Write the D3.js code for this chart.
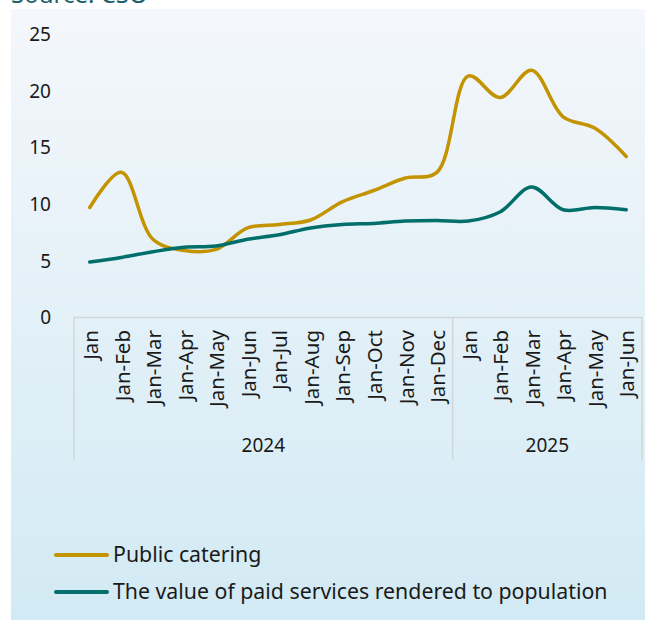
<!DOCTYPE html>
<html>
<head>
<meta charset="utf-8">
<script src="https://cdn.jsdelivr.net/npm/d3@7"></script>
<style>
  body { margin: 0; background: #fff; }
  svg { display: block; font-family: "Noto Sans", sans-serif; }
</style>
</head>
<body>
<div id="chart"></div>
<script>
// 月ラベル（累計）
const months = ["Jan", "Jan-Feb", "Jan-Mar", "Jan-Apr", "Jan-May", "Jan-Jun", "Jan-Jul",
  "Jan-Aug", "Jan-Sep", "Jan-Oct", "Jan-Nov", "Jan-Dec",
  "Jan", "Jan-Feb", "Jan-Mar", "Jan-Apr", "Jan-May", "Jan-Jun"];
const years = [{ label: "2024", from: 0, to: 11 }, { label: "2025", from: 12, to: 17 }];

// 系列の値
const cateringValues = [9.7, 12.8, 6.9, 5.9, 6.0, 7.9, 8.2, 8.6, 10.2, 11.2, 12.3, 12.8,
  21.3, 19.4, 21.8, 17.7, 16.7, 14.2];
const servicesValues = [4.9, 5.3, 5.8, 6.2, 6.3, 6.9, 7.3, 7.9, 8.2, 8.3, 8.5, 8.55,
  8.5, 9.3, 11.5, 9.5, 9.7, 9.5];
const yTicks = [0, 5, 10, 15, 20, 25];

const series = [
  { name: "Public catering", values: cateringValues, color: "#c49300" },
  { name: "The value of paid services rendered to population", values: servicesValues, color: "#006e6a" }
];

const width = 645, height = 620;
const svg = d3.select('#chart').append('svg')
  .attr('width', width)
  .attr('height', height);

// 背景のグラデーション
const grad = svg.append('defs').append('linearGradient')
  .attr('id', 'bg').attr('x1', 0).attr('y1', 0).attr('x2', 0).attr('y2', 1);
grad.append('stop').attr('offset', '0%').attr('stop-color', '#f4f7fb');
grad.append('stop').attr('offset', '100%').attr('stop-color', '#d2eaf4');

svg.append('rect')
  .attr('x', 11).attr('y', 9)
  .attr('width', width - 11).attr('height', height - 9)
  .attr('fill', 'url(#bg)');

// 上で切れている出典
svg.append('text')
  .attr('x', 11).attr('y', 3)
  .style('font-size', '24px')
  .style('fill', '#1b5f6e')
  .text('Source: CSO');

// スケール
const x = d3.scaleBand()
  .domain(d3.range(months.length))
  .range([74, 642]);
const cx = i => x(i) + x.bandwidth() / 2;

const y = d3.scaleLinear()
  .domain([0, 25])
  .range([317.5, 34]);

// Y軸ラベル
svg.append('g')
  .selectAll('text')
  .data(yTicks)
  .enter()
  .append('text')
  .attr('x', 51)
  .attr('y', d => y(d))
  .attr('dy', '0.36em')
  .attr('text-anchor', 'end')
  .style('font-size', '19px')
  .style('fill', '#1a1a1a')
  .text(d => d);

// X軸の枠線
const axisG = svg.append('g')
  .attr('stroke', '#d3d6d8')
  .attr('stroke-width', 1.5);
axisG.append('line')
  .attr('x1', 74).attr('x2', 642)
  .attr('y1', y(0)).attr('y2', y(0));
const separators = [0, 12, months.length];
axisG.selectAll('line.sep')
  .data(separators)
  .enter()
  .append('line')
  .attr('class', 'sep')
  .attr('x1', d => d === months.length ? 642 : x(d))
  .attr('x2', d => d === months.length ? 642 : x(d))
  .attr('y1', y(0)).attr('y2', 460);

// 月ラベル（回転）
svg.append('g')
  .selectAll('text')
  .data(months)
  .enter()
  .append('text')
  .attr('transform', (d, i) => `translate(${cx(i) + 1},330) rotate(-90)`)
  .attr('dy', '0.35em')
  .attr('text-anchor', 'end')
  .style('font-size', '20.5px')
  .style('fill', '#1a1a1a')
  .text(d => d);

// 年ラベル
svg.append('g')
  .selectAll('text')
  .data(years)
  .enter()
  .append('text')
  .attr('x', d => (x(d.from) + x(d.to) + x.bandwidth()) / 2)
  .attr('y', 452)
  .attr('text-anchor', 'middle')
  .style('font-size', '19px')
  .style('fill', '#1a1a1a')
  .text(d => d.label);

// 折れ線
const line = d3.line()
  .x((d, i) => cx(i))
  .y(d => y(d))
  .curve(d3.curveCatmullRom.alpha(0.5));

svg.append('g')
  .selectAll('path')
  .data(series)
  .enter()
  .append('path')
  .attr('d', d => line(d.values))
  .attr('fill', 'none')
  .attr('stroke', d => d.color)
  .attr('stroke-width', 3.5)
  .attr('stroke-linecap', 'round')
  .attr('stroke-linejoin', 'round');

// 凡例
const legend = svg.append('g')
  .selectAll('g')
  .data(series)
  .enter()
  .append('g')
  .attr('transform', (d, i) => `translate(0,${555 + i * 37})`);
legend.append('line')
  .attr('x1', 56).attr('x2', 107)
  .attr('y1', 0).attr('y2', 0)
  .attr('stroke', d => d.color)
  .attr('stroke-width', 4)
  .attr('stroke-linecap', 'round');
legend.append('text')
  .attr('x', 113)
  .attr('y', 0)
  .attr('dy', '0.35em')
  .style('font-size', '21.3px')
  .style('fill', '#1a1a1a')
  .text(d => d.name);
</script>
</body>
</html>
